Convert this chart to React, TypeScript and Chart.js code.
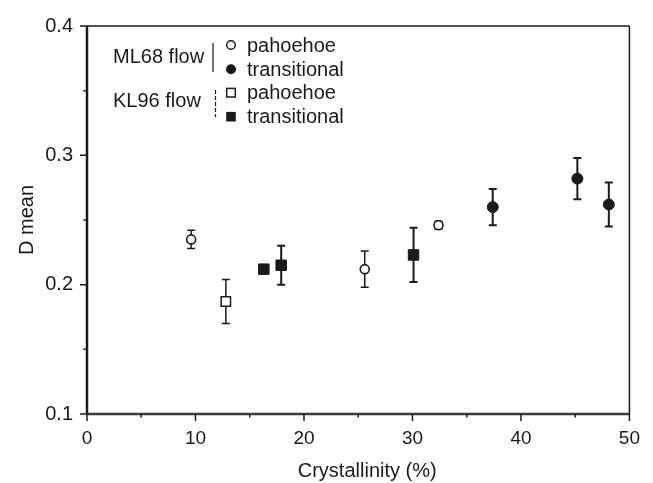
import React, { useEffect, useRef } from "react";
import { Chart, registerables } from "chart.js";

Chart.register(...registerables);

// ---- data ----
const xMajorTicks = [0, 10, 20, 30, 40, 50];
const xMinorTicks = [5, 15, 25, 35, 45];
const yMajorTicks = [0.1, 0.2, 0.3, 0.4];
const yMinorTicks = [0.15, 0.25, 0.35];

const mlPahoehoeX = [9.6, 25.6, 32.4];
const mlPahoehoeY = [0.235, 0.212, 0.246];
const mlPahoehoeErr = [0.007, 0.014, 0.003];

const mlTransitionalX = [37.4, 45.2, 48.1];
const mlTransitionalY = [0.26, 0.282, 0.262];
const mlTransitionalErr = [0.014, 0.016, 0.017];

const klPahoehoeX = [12.8];
const klPahoehoeY = [0.187];
const klPahoehoeErr = [0.017];

const klTransitionalX = [16.3, 17.9, 30.1];
const klTransitionalY = [0.212, 0.215, 0.223];
const klTransitionalErr = [0.0, 0.015, 0.021];

const legendGroups = ["ML68 flow", "KL96 flow"];
const legendTypes = ["pahoehoe", "transitional"];
const xTitle = "Crystallinity (%)";
const yTitle = "D mean";

const FONT = "'Liberation Sans', Arial, sans-serif";
const INK = "#1a1a1a";

function pts(xs: number[], ys: number[], es: number[]) {
  return xs.map((x, i) => ({ x, y: ys[i], err: es[i] }));
}

const errorBarPlugin = {
  id: "errorBars",
  beforeDatasetsDraw(chart: any) {
    const { ctx } = chart;
    const xs = chart.scales.x;
    const ys = chart.scales.y;
    chart.data.datasets.forEach((ds: any) => {
      ctx.save();
      ctx.strokeStyle = INK;
      ctx.lineWidth = ds.errWidth || 1.5;
      ds.data.forEach((p: any) => {
        if (!p.err) return;
        const px = xs.getPixelForValue(p.x);
        const top = ys.getPixelForValue(p.y + p.err);
        const bot = ys.getPixelForValue(p.y - p.err);
        ctx.beginPath();
        ctx.moveTo(px, top);
        ctx.lineTo(px, bot);
        ctx.moveTo(px - 4, top);
        ctx.lineTo(px + 4, top);
        ctx.moveTo(px - 4, bot);
        ctx.lineTo(px + 4, bot);
        ctx.stroke();
      });
      ctx.restore();
    });
  },
};

const framePlugin = {
  id: "frame",
  afterDraw(chart: any) {
    const { ctx, chartArea: a } = chart;
    const xs = chart.scales.x;
    const ys = chart.scales.y;
    ctx.save();
    ctx.strokeStyle = INK;
    // box
    ctx.lineWidth = 1.5;
    ctx.beginPath();
    ctx.moveTo(a.left, a.top);
    ctx.lineTo(a.right, a.top);
    ctx.moveTo(a.right, a.top);
    ctx.lineTo(a.right, a.bottom);
    ctx.stroke();
    ctx.lineWidth = 2.5;
    ctx.beginPath();
    ctx.moveTo(a.left, a.top);
    ctx.lineTo(a.left, a.bottom);
    ctx.stroke();
    ctx.strokeStyle = "#3a3a3a";
    ctx.lineWidth = 2.5;
    ctx.beginPath();
    ctx.moveTo(a.left, a.bottom);
    ctx.lineTo(a.right, a.bottom);
    ctx.stroke();
    // ticks
    ctx.strokeStyle = INK;
    ctx.lineWidth = 1.5;
    ctx.beginPath();
    xMajorTicks.forEach((v) => {
      const p = xs.getPixelForValue(v);
      ctx.moveTo(p, a.bottom);
      ctx.lineTo(p, a.bottom + 7);
    });
    xMinorTicks.forEach((v) => {
      const p = xs.getPixelForValue(v);
      ctx.moveTo(p, a.bottom);
      ctx.lineTo(p, a.bottom + 3.5);
    });
    yMajorTicks.forEach((v) => {
      const p = ys.getPixelForValue(v);
      ctx.moveTo(a.left, p);
      ctx.lineTo(a.left - 7, p);
    });
    yMinorTicks.forEach((v) => {
      const p = ys.getPixelForValue(v);
      ctx.moveTo(a.left, p);
      ctx.lineTo(a.left - 3.5, p);
    });
    ctx.stroke();
    ctx.restore();

    // x axis title
    ctx.save();
    ctx.fillStyle = INK;
    ctx.font = `20px ${FONT}`;
    ctx.textAlign = "center";
    ctx.textBaseline = "middle";
    ctx.fillText(xTitle, (a.left + a.right) / 2 + 9, 471);
    ctx.restore();

    // legend
    ctx.save();
    ctx.fillStyle = INK;
    ctx.strokeStyle = INK;
    ctx.font = `20px ${FONT}`;
    ctx.textBaseline = "middle";
    ctx.textAlign = "left";
    const rows = [45, 69.3, 92.7, 116.7];
    ctx.fillText(legendGroups[0], 113, 57);
    ctx.fillText(legendGroups[1], 113, 101);
    // brackets
    ctx.lineWidth = 1.2;
    ctx.beginPath();
    ctx.moveTo(213, 43);
    ctx.lineTo(213, 72);
    ctx.stroke();
    ctx.setLineDash([4, 2]);
    ctx.beginPath();
    ctx.moveTo(215.5, 90);
    ctx.lineTo(215.5, 117);
    ctx.stroke();
    ctx.setLineDash([]);
    // markers
    const mx = 231;
    ctx.lineWidth = 1.5;
    ctx.beginPath();
    ctx.arc(mx, rows[0], 4.3, 0, Math.PI * 2);
    ctx.fillStyle = "#fff";
    ctx.fill();
    ctx.stroke();
    ctx.fillStyle = INK;
    ctx.beginPath();
    ctx.arc(mx, rows[1], 5, 0, Math.PI * 2);
    ctx.fill();
    ctx.strokeRect(mx - 4.3, rows[2] - 4.3, 8.6, 8.6);
    ctx.fillRect(mx - 4.8, rows[3] - 4.8, 9.6, 9.6);
    rows.forEach((r, i) => {
      ctx.fillText(legendTypes[i % 2], 247, r + 1);
    });
    ctx.restore();
  },
};

export default function App() {
  const ref = useRef<HTMLCanvasElement | null>(null);

  useEffect(() => {
    if (!ref.current) return;
    const chart = new Chart(ref.current, {
      type: "scatter",
      data: {
        datasets: [
          {
            label: "ML68 pahoehoe",
            data: pts(mlPahoehoeX, mlPahoehoeY, mlPahoehoeErr),
            pointStyle: "circle",
            pointRadius: 4.5,
            pointBackgroundColor: "#ffffff",
            pointBorderColor: INK,
            pointBorderWidth: 1.6,
            errWidth: 1.5,
          } as any,
          {
            label: "ML68 transitional",
            data: pts(mlTransitionalX, mlTransitionalY, mlTransitionalErr),
            pointStyle: "circle",
            pointRadius: 5.5,
            pointBackgroundColor: INK,
            pointBorderColor: INK,
            pointBorderWidth: 1,
            errWidth: 2,
          } as any,
          {
            label: "KL96 pahoehoe",
            data: pts(klPahoehoeX, klPahoehoeY, klPahoehoeErr),
            pointStyle: "rect",
            pointRadius: 6.6,
            pointBackgroundColor: "#ffffff",
            pointBorderColor: INK,
            pointBorderWidth: 1.5,
            errWidth: 1.5,
          } as any,
          {
            label: "KL96 transitional",
            data: pts(klTransitionalX, klTransitionalY, klTransitionalErr),
            pointStyle: "rect",
            pointRadius: 7.4,
            pointBackgroundColor: INK,
            pointBorderColor: INK,
            pointBorderWidth: 1,
            errWidth: 2,
          } as any,
        ],
      },
      options: {
        responsive: false,
        animation: false,
        layout: { padding: { top: 13, right: 19, left: 0, bottom: 0 } },
        plugins: {
          legend: { display: false },
          tooltip: { enabled: false },
        },
        scales: {
          x: {
            type: "linear",
            min: 0,
            max: 50,
            afterFit: (s: any) => {
              s.height = 69;
            },
            afterBuildTicks: (s: any) => {
              s.ticks = xMajorTicks.map((v) => ({ value: v }));
            },
            grid: { display: false, drawTicks: false },
            border: { display: false },
            ticks: {
              padding: 13,
              color: INK,
              font: { family: FONT, size: 19 },
              maxRotation: 0,
              callback: (v: any) => String(v),
            },
            title: { display: false },
          },
          y: {
            type: "linear",
            min: 0.1,
            max: 0.4,
            afterFit: (s: any) => {
              s.width = 87;
            },
            afterBuildTicks: (s: any) => {
              s.ticks = yMajorTicks.map((v) => ({ value: v }));
            },
            grid: { display: false, drawTicks: false },
            border: { display: false },
            ticks: {
              padding: 14,
              color: INK,
              font: { family: FONT, size: 20 },
              callback: (v: any) => Number(v).toFixed(1),
            },
            title: {
              display: true,
              text: yTitle,
              color: INK,
              font: { family: FONT, size: 20 },
              padding: { top: 15, bottom: 0 },
            },
          },
        },
      },
      plugins: [errorBarPlugin, framePlugin],
    } as any);
    return () => chart.destroy();
  }, []);

  return (
    <div style={{ position: "fixed", left: 0, top: 0, width: 653, height: 483, background: "#fff" }}>
      <canvas ref={ref} width={653} height={483} style={{ display: "block", width: 653, height: 483 }} />
    </div>
  );
}
